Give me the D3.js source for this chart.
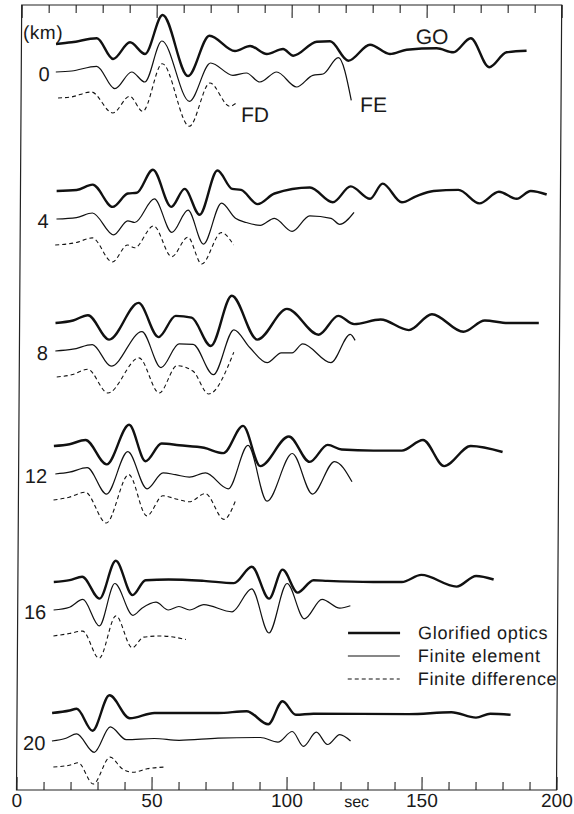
<!DOCTYPE html>
<html>
<head>
<meta charset="utf-8">
<script src="https://cdn.jsdelivr.net/npm/d3@7/dist/d3.min.js"></script>
<style>
  body { margin: 0; background: #fff; }
  text { font-family: "Liberation Sans", Arial, sans-serif; fill: #1a1a1a; }
</style>
</head>
<body>
<svg id="chart" width="574" height="814"></svg>
<script>
// distances (km) of the six receiver groups
const distances = [0, 4, 8, 12, 16, 20];
const kmLabels = ["0", "4", "8", "12", "16", "20"];
const timeTicks = [0, 50, 100, 150, 200];

// traces: [time (sec), amplitude]
const go0 = [[12.8,0],[18.6,1.7],[27.9,5.7],[34.0,-15],[40.2,1.7],[45.8,-10],[52.2,29],[61.8,-32],[69.6,8.3],[79.1,-7],[84.7,-2],[90.9,-10],[96.9,-5],[100.7,-11.7],[109.4,2.3],[114.3,2.7],[121.1,-16.7],[129.1,-0.7],[136.5,-10],[142.7,-5.7],[153.8,-4.3],[160.0,-8.3],[166.4,5.7],[173.3,-23.3],[179.7,-8.3],[187.1,-6.7]];
const fe0 = [[12.8,0],[18.7,1],[27.9,5.7],[34.7,-16.7],[40.9,0],[45.8,-10],[52.0,31],[62.4,-29.3],[70.1,9],[78.4,-3.3],[83.4,-1],[88.4,-10],[94.6,0],[102.0,-15],[108.0,-3.3],[111.8,-2],[117.4,14.3],[122.3,-28.3]];
const fd0 = [[13.7,0],[18.5,1],[26.0,6],[34.0,-15],[40.2,1.7],[45.1,-13.3],[52.2,34.3],[62.4,-28.3],[69.9,15],[77.3,-8.3],[79.7,-5]];

const go4 = [[13.4,0],[20.8,1],[26.7,6.4],[34.2,-15.9],[39.8,-2.5],[43.1,-1.8],[49.0,21.2],[55.9,-15.9],[60.8,2.1],[66.4,-23.7],[72.9,20.5],[78.4,2.1],[81.7,1.1],[87.9,-13.1],[94.1,-2.5],[107.2,3.5],[115.7,-11.3],[122.3,4.6],[129.5,-7.8],[134.1,7.4],[141.3,-11.3],[146.5,-5.3],[153.0,0],[162.2,1.1],[170.0,-12.4],[177.2,-0.7],[183.8,-7.8],[189.0,0],[194.9,-3.5]];
const fe4 = [[13.4,0],[20.8,1.4],[26.7,6],[34.6,-15.9],[39.8,-1.8],[42.4,-3.5],[49.6,20.1],[56.2,-13.4],[62.1,8.8],[67.9,-25.1],[74.5,15.9],[79.7,0.7],[83.7,-3.5],[88.9,-6.4],[94.1,0.7],[100.7,-12.4],[107.2,3.2],[115.1,0.7],[118.3,-5.3],[123.6,6.7]];
const fd4 = [[13.0,0],[20.8,2.5],[26.7,7.1],[34.2,-17],[39.8,0],[42.4,-2.8],[49.4,19.1],[56.2,-11.7],[62.1,7.8],[67.3,-19],[74.5,12.4],[79.1,0]];

const go8 = [[13.3,0],[19.8,2.5],[25.3,7.8],[33.2,-16.6],[44.0,20.1],[51.5,-14.1],[57.8,7.1],[63.7,5.3],[70.9,-23],[78.5,27.2],[88.1,-16.6],[99.0,14.1],[110.8,-11.7],[118.0,7.1],[123.9,-1.1],[133.7,3.5],[144.2,-7.1],[152.7,8.8],[164.4,-8.8],[172.3,2.5],[180.8,0],[192.3,0]];
const fe8 = [[13.3,0],[19.8,1.8],[27.0,6.4],[34.0,-15.2],[45.3,19.4],[52.5,-16.6],[59.1,7.1],[64.3,6.7],[71.9,-23.7],[79.4,21.2],[85.3,3.5],[91.8,-11.7],[97.0,-1.8],[101.0,-1.8],[104.9,7.1],[115.4,-11.7],[122.5,16.6],[124.3,10.6]];
const fd8 = [[13.9,0],[19.8,2.5],[25.3,7.8],[32.9,-16],[44.3,19.1],[51.9,-16],[58.4,11.3],[64.3,6],[70.2,-17],[79.4,24.7]];

const go12 = [[13.0,0],[18.8,1.8],[24.7,6],[32.6,-18.4],[40.8,21.2],[47.0,-15.2],[52.9,2.5],[59.4,0.7],[68.6,-1.8],[75.8,-7.1],[83.0,20.1],[89.5,-20.1],[100.0,9.5],[107.8,-15.9],[114.4,1.1],[119.6,-3.5],[131.4,-4.6],[141.9,-4.6],[149.7,6],[157.6,-20.1],[167.4,0],[179.2,-6]];
const fe12 = [[13.6,0],[18.8,1.8],[25.4,6.4],[32.6,-20.1],[40.4,22.3],[47.6,-14.8],[53.5,1.1],[58.1,-0.7],[63.3,-3.2],[69.2,1.1],[77.7,-14.8],[84.9,28.6],[92.1,-27.2],[101.3,20.5],[108.9,-20.1],[117.0,12.4],[123.5,-7.8]];
const fd12 = [[13.0,0],[18.8,2.8],[24.7,7.8],[32.6,-23],[40.8,25.4],[47.6,-15.9],[53.5,4.2],[58.8,0.7],[63.3,-1.8],[69.2,6.4],[76.2,-19.4],[80.4,-0.7]];

const go16 = [[13.3,0],[19.2,1.8],[23.8,5.3],[30.3,-16.6],[36.2,21.2],[42.5,-13.1],[47.3,1.8],[55.8,2.5],[68.9,1.1],[80.0,-1.1],[86.6,15.2],[93.1,-16.6],[98.0,12.4],[103.6,-10.6],[109.5,1.8],[114.7,1.1],[131.7,0],[142.2,0],[149.4,7.1],[162.5,-4.6],[169.7,6],[176.2,2.5]];
const fe16 = [[13.3,0],[19.2,2.8],[24.1,10.6],[30.3,-15.9],[35.9,26.5],[42.7,-5.3],[46.0,1.8],[51.2,7.8],[55.8,0],[59.7,3.5],[63.7,0],[68.9,5.3],[79.4,-1.8],[86.6,21.2],[93.1,-23],[99.7,26.5],[106.2,-8.8],[112.7,10.6],[119.3,1.8],[123.2,4.2]];
const fd16 = [[13.3,0],[19.2,2.5],[24.1,4.9],[30.3,-22.3],[36.4,20.1],[42.5,-11.7],[46.7,-1.1],[53.2,0],[62.4,-3.5]];

const go20 = [[13.0,0],[19.5,2.5],[22.1,4.2],[28.0,-17.7],[34.2,17.7],[41.8,-5.3],[50.9,0],[74.5,0],[85.0,1.8],[93.1,-11.3],[98.3,11.7],[103.3,-1.8],[109.8,-0.7],[145.1,-1.1],[160.9,0.7],[170.0,-4.6],[175.3,-0.7],[182.8,-1.8]];
const fe20 = [[13.0,0],[18.2,2.8],[22.1,7.1],[28.7,-11.3],[34.6,14.1],[40.5,1.4],[50.9,2.5],[60.1,0.7],[74.5,2.8],[90.2,3.5],[96.7,-1.1],[102.0,9.5],[106.2,-5.3],[110.9,8.8],[115.1,-3.5],[119.6,6.4],[123.6,0]];
const fd20 = [[13.6,0],[19.5,1.8],[22.8,4.2],[28.4,-17],[34.6,9.9],[39.1,-1.8],[43.1,-5.3],[48.3,-1.8],[54.9,0]];

const legendNames = ["Glorified optics", "Finite element", "Finite difference"];

const traces = [
  {km: 0, kind: "GO", pts: go0}, {km: 0, kind: "FE", pts: fe0}, {km: 0, kind: "FD", pts: fd0},
  {km: 4, kind: "GO", pts: go4}, {km: 4, kind: "FE", pts: fe4}, {km: 4, kind: "FD", pts: fd4},
  {km: 8, kind: "GO", pts: go8}, {km: 8, kind: "FE", pts: fe8}, {km: 8, kind: "FD", pts: fd8},
  {km: 12, kind: "GO", pts: go12}, {km: 12, kind: "FE", pts: fe12}, {km: 12, kind: "FD", pts: fd12},
  {km: 16, kind: "GO", pts: go16}, {km: 16, kind: "FE", pts: fe16}, {km: 16, kind: "FD", pts: fd16},
  {km: 20, kind: "GO", pts: go20}, {km: 20, kind: "FE", pts: fe20}, {km: 20, kind: "FD", pts: fd20}
];

const svg = d3.select("#chart"),
  frameTop = 5, frameBottom = 790,
  slant = 5.2 / 785; // the scanned frame leans slightly

const x = d3.scaleLinear().domain([0, 200]).range([16.5, 556.5]);
const y = d3.scaleLinear().domain(distances).range([72, 219, 351, 474, 610, 741]);
const amp = d3.scaleLinear().domain([-40, 40]).range([40, -40]);
const offset = {GO: -28, FE: 0, FD: 26};
const styles = {
  GO: {w: 2.4, dash: null},
  FE: {w: 1.2, dash: null},
  FD: {w: 1.1, dash: "4,3"}
};

const g = svg.append("g")
  .attr("transform", "translate(" + (slant * frameBottom) + ",0) skewX(" + (-Math.atan(slant) * 180 / Math.PI) + ")");

// frame
g.append("rect")
  .attr("x", x(0)).attr("y", frameTop)
  .attr("width", x(200) - x(0)).attr("height", frameBottom - frameTop)
  .attr("fill", "none").attr("stroke", "#222").attr("stroke-width", 1.2);

// bottom axis: minor ticks, then major ticks with labels
const minor = d3.range(10, 200, 10).filter(d => d % 50 !== 0);
g.append("g").attr("transform", "translate(0," + frameBottom + ")")
  .call(d3.axisBottom(x).tickValues(minor).tickSize(-8).tickFormat(""))
  .call(s => s.select(".domain").remove());
g.append("g").attr("class", "xaxis").attr("transform", "translate(0," + frameBottom + ")")
  .call(d3.axisBottom(x).tickValues(timeTicks).tickSize(-13).tickPadding(4).tickFormat(d3.format("d")))
  .call(s => s.select(".domain").remove());
g.selectAll(".xaxis text").style("font-size", "19px").style("font-family", "\"Liberation Sans\", Arial, sans-serif").attr("fill", "#1a1a1a");

// top axis
g.append("g").attr("transform", "translate(0," + frameTop + ")")
  .call(d3.axisTop(x).tickValues(minor).tickSize(-8).tickFormat(""))
  .call(s => s.select(".domain").remove());
g.append("g").attr("transform", "translate(0," + frameTop + ")")
  .call(d3.axisTop(x).tickValues(timeTicks).tickSize(-13).tickFormat(""))
  .call(s => s.select(".domain").remove());
g.selectAll(".tick line").attr("stroke", "#222").attr("stroke-width", 1.1);

g.append("text")
  .attr("x", x(126)).attr("y", 807)
  .attr("text-anchor", "middle")
  .style("font-size", "16px")
  .text("sec");

// traces
const line = d3.line()
  .x(d => x(d[0]))
  .y(d => amp(d[1]))
  .curve(d3.curveMonotoneX);

g.selectAll("path.trace")
  .data(traces)
  .enter().append("path")
  .attr("class", "trace")
  .attr("transform", d => "translate(0," + (y(d.km) + offset[d.kind]) + ")")
  .attr("d", d => line(d.pts))
  .attr("fill", "none")
  .attr("stroke", "#111")
  .attr("stroke-width", d => styles[d.kind].w)
  .attr("stroke-dasharray", d => styles[d.kind].dash)
  .attr("stroke-linejoin", "round");

// distance labels
g.append("text")
  .attr("x", 18).attr("y", 39)
  .style("font-size", "19px")
  .style("letter-spacing", "0.5px")
  .text("(km)");

g.selectAll("text.km")
  .data(distances)
  .enter().append("text")
  .attr("class", "km")
  .attr("x", 45)
  .attr("y", d => y(d) + 4)
  .attr("text-anchor", "end")
  .attr("dominant-baseline", "middle")
  .style("font-size", "20px")
  .text((d, i) => kmLabels[i]);

// method annotations on the 0 km group
g.append("text").attr("x", x(146)).attr("y", y(0) + offset.GO)
  .style("font-size", "21px").text("GO");
g.append("text").attr("x", x(125.6)).attr("y", y(0) + 40)
  .style("font-size", "21px").text("FE");
g.append("text").attr("x", x(81.5)).attr("y", y(0) + 50)
  .style("font-size", "21px").text("FD");

// legend
const legend = g.append("g").attr("transform", "translate(347,633)");
const kinds = ["GO", "FE", "FD"];
kinds.forEach((k, i) => {
  legend.append("line")
    .attr("x1", 0).attr("x2", 52)
    .attr("y1", i * 23).attr("y2", i * 23)
    .attr("stroke", "#111")
    .attr("stroke-width", styles[k].w)
    .attr("stroke-dasharray", styles[k].dash);
  legend.append("text")
    .attr("x", 70).attr("y", i * 23 + 6)
    .style("font-size", "18px")
    .style("letter-spacing", "0.7px")
    .text(legendNames[i]);
});
</script>
</body>
</html>
